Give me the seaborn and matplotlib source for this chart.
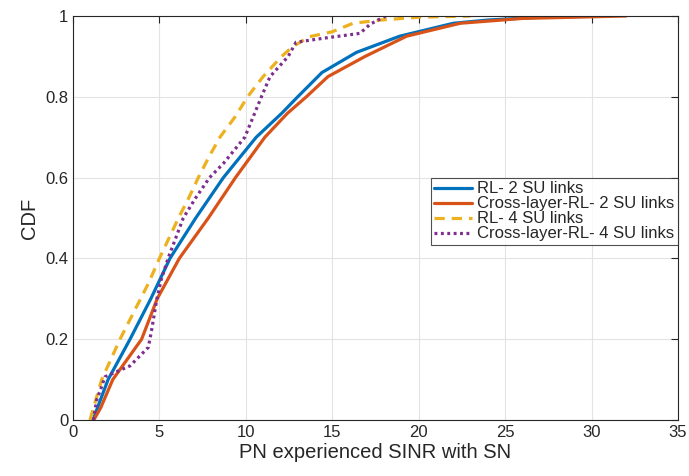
import numpy as np
import pandas as pd
import matplotlib
matplotlib.use("Agg")
import matplotlib.pyplot as plt
import seaborn as sns

# Data (SINR value at given CDF levels)
rl2_x = [1.16, 1.5, 2.03, 3.3, 4.5, 5.61, 7.1, 8.7, 10.6, 12.07, 13.0, 14.4, 16.4, 18.9, 22.0, 24.0, 27.0, 31.0]
rl2_y = [0, 0.04, 0.1, 0.2, 0.3, 0.4, 0.5, 0.6, 0.7, 0.759, 0.8, 0.86, 0.91, 0.95, 0.982, 0.99, 0.997, 1.0]

cl2_x = [1.2, 1.6, 2.3, 3.97, 4.87, 6.15, 7.83, 9.4, 11.1, 12.4, 13.5, 14.75, 16.9, 19.3, 22.4, 26.0, 32.0]
cl2_y = [0, 0.03, 0.1, 0.2, 0.3, 0.4, 0.5, 0.6, 0.7, 0.759, 0.8, 0.85, 0.9, 0.95, 0.982, 0.994, 1.0]

rl4_x = [0.98, 1.66, 2.72, 4.36, 5.0, 6.1, 6.7, 7.25, 7.85, 8.5, 9.37, 10.1, 11.0, 12.07, 12.7, 13.7, 15.0, 16.2, 17.8, 20.0, 23.0]
rl4_y = [0, 0.1, 0.2, 0.338, 0.4, 0.5, 0.55, 0.6, 0.65, 0.7, 0.75, 0.8, 0.85, 0.9, 0.924, 0.949, 0.961, 0.982, 0.99, 0.997, 1.0]

cl4_x = [1.18, 1.37, 1.66, 1.85, 3.3, 4.36, 4.55, 4.84, 5.1, 5.5, 6.38, 7.1, 7.9, 8.7, 9.94, 10.9, 11.4, 12.45, 12.9, 14.5, 16.6, 17.2, 18.1]
cl4_y = [0, 0.05, 0.083, 0.107, 0.134, 0.18, 0.223, 0.297, 0.347, 0.4, 0.5, 0.55, 0.6, 0.635, 0.7, 0.8, 0.85, 0.9, 0.935, 0.945, 0.957, 0.98, 1.0]

labels = ["RL- 2 SU links", "Cross-layer-RL- 2 SU links", "RL- 4 SU links", "Cross-layer-RL- 4 SU links"]
colors = ["#0072BD", "#D95319", "#EDB120", "#7E2F8E"]

frames = []
for lab, xs, ys in zip(labels, [rl2_x, cl2_x, rl4_x, cl4_x], [rl2_y, cl2_y, rl4_y, cl4_y]):
    frames.append(pd.DataFrame({"x": xs, "y": ys, "series": lab}))
df = pd.concat(frames, ignore_index=True)

sns.set_style("white")
plt.rcParams["font.family"] = ["Liberation Sans", "DejaVu Sans"]

fig = plt.figure(figsize=(6.89, 4.76), dpi=100)
ax = fig.add_axes([73/689, 1-420/476, (678-73)/689, (420-16)/476])

styles = ["-", "-", (0, (3.2, 2.2)), (0, (0.9, 1.1))]
for lab, col, ls in zip(labels, colors, styles):
    sub = df[df["series"] == lab]
    sns.lineplot(data=sub, x="x", y="y", ax=ax, color=col, lw=2.3, sort=False,
                 label=lab, estimator=None)
for line, ls in zip(ax.get_lines(), styles):
    line.set_linestyle(ls)
    line.set_dash_capstyle("butt")

ax.set_xlim(0, 35)
ax.set_ylim(0, 1)
ax.set_xticks(np.arange(0, 36, 5))
ax.set_yticks([0, 0.2, 0.4, 0.6, 0.8, 1])
ax.set_yticklabels(["0", "0.2", "0.4", "0.6", "0.8", "1"])
ax.grid(True, color="#e3e3e3", lw=0.8)
ax.set_axisbelow(True)
for s in ax.spines.values():
    s.set_color("#262626")
    s.set_linewidth(0.8)
ax.tick_params(direction="in", top=True, right=True, length=5, width=0.8,
               labelsize=12, colors="#262626")
ax.set_xlabel("PN experienced SINR with SN", fontsize=14.5, color="#262626", labelpad=2)
ax.set_ylabel("CDF", fontsize=14.5, color="#262626", labelpad=4)

leg = ax.legend(loc="upper right", bbox_to_anchor=(1.0, 0.599), fontsize=12,
                frameon=True, fancybox=False, borderpad=0.2, labelspacing=0.0,
                handlelength=2.3, handletextpad=0.3, borderaxespad=0)
leg.get_frame().set_edgecolor("#262626")
leg.get_frame().set_linewidth(0.8)
for h in leg.get_lines():
    h.set_linewidth(2.3)

fig.savefig("out.png", dpi=100)
